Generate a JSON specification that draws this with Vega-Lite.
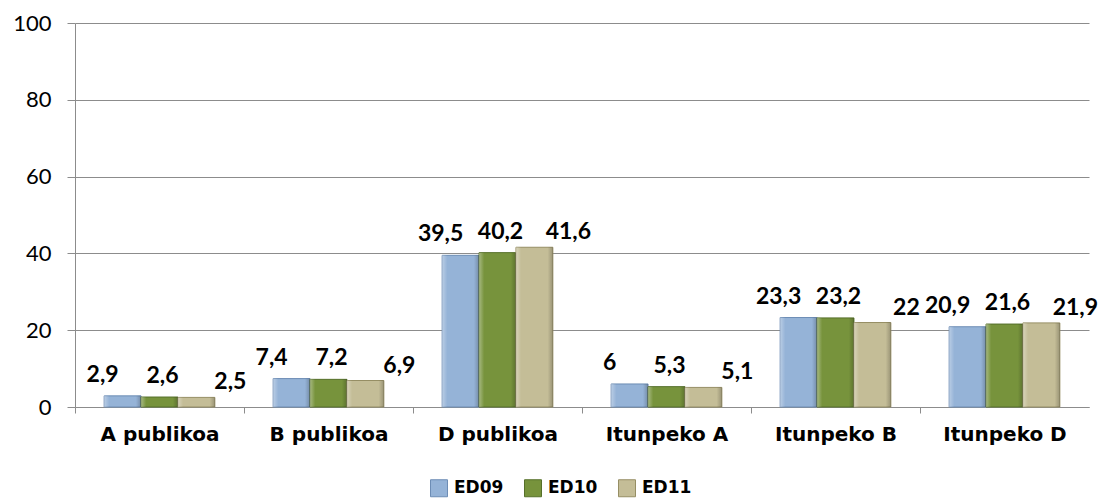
{
  "$schema": "https://vega.github.io/schema/vega-lite/v6.json",
  "width": 1014,
  "height": 384,
  "autosize": {"type": "none"},
  "padding": {"left": 75, "top": 23, "right": 21, "bottom": 92},
  "background": "white",
  "config": {
    "view": {"stroke": null},
    "locale": {"number": {"decimal": ",", "thousands": ".", "grouping": [3], "currency": ["", " €"]}},
    "axis": {"domainColor": "#8c8c8c", "gridColor": "#8c8c8c", "tickColor": "#8c8c8c", "labelColor": "#000000"}
  },
  "data": {
    "values": [
      {"cat": "A publikoa", "series": "ED09", "value": 2.9},
      {"cat": "A publikoa", "series": "ED10", "value": 2.6},
      {"cat": "A publikoa", "series": "ED11", "value": 2.5},
      {"cat": "B publikoa", "series": "ED09", "value": 7.4},
      {"cat": "B publikoa", "series": "ED10", "value": 7.2},
      {"cat": "B publikoa", "series": "ED11", "value": 6.9},
      {"cat": "D publikoa", "series": "ED09", "value": 39.5},
      {"cat": "D publikoa", "series": "ED10", "value": 40.2},
      {"cat": "D publikoa", "series": "ED11", "value": 41.6},
      {"cat": "Itunpeko A", "series": "ED09", "value": 6},
      {"cat": "Itunpeko A", "series": "ED10", "value": 5.3},
      {"cat": "Itunpeko A", "series": "ED11", "value": 5.1},
      {"cat": "Itunpeko B", "series": "ED09", "value": 23.3},
      {"cat": "Itunpeko B", "series": "ED10", "value": 23.2},
      {"cat": "Itunpeko B", "series": "ED11", "value": 22},
      {"cat": "Itunpeko D", "series": "ED09", "value": 20.9},
      {"cat": "Itunpeko D", "series": "ED10", "value": 21.6},
      {"cat": "Itunpeko D", "series": "ED11", "value": 21.9}
    ]
  },
  "encoding": {
    "x": {
      "field": "cat", "type": "nominal", "sort": null,
      "scale": {"paddingInner": 0.345, "paddingOuter": 0.1725},
      "axis": {
        "title": null, "labelAngle": 0, "labelFont": "DejaVu Sans", "labelFontWeight": "bold",
        "labelFontSize": 20, "tickSize": 6, "tickOffset": -84.5, "labelOffset": 84.5,
        "labelPadding": 11
      }
    },
    "xOffset": {"field": "series", "type": "nominal", "sort": null, "scale": {"paddingInner": 0, "paddingOuter": 0}},
    "y": {
      "field": "value", "type": "quantitative",
      "scale": {"domain": [0, 100], "nice": false},
      "axis": {
        "title": null, "values": [0, 20, 40, 60, 80, 100], "grid": true, "tickSize": 8,
        "labelPadding": 16, "labelFont": "Lato", "labelFontSize": 22
      }
    }
  },
  "layer": [
    {
      "mark": {"type": "bar", "strokeWidth": 1, "opacity": 1},
      "encoding": {
        "color": {
          "field": "series", "type": "nominal", "sort": null,
          "scale": {"range": ["#95b3d7", "#77933c", "#c4bd97"]},
          "legend": {
            "title": null, "orient": "none", "legendX": 355, "legendY": 456, "direction": "horizontal",
            "symbolType": "square", "symbolSize": 289, "symbolStrokeWidth": 1, "labelFont": "DejaVu Sans",
            "labelFontWeight": "bold", "labelFontSize": 17, "labelColor": "#000000", "labelOffset": 6,
            "columnPadding": 18
          }
        },
        "stroke": {
          "field": "series", "type": "nominal", "sort": null,
          "scale": {"range": ["#6d8db5", "#56702a", "#968e64"]},
          "legend": {
            "title": null, "orient": "none", "legendX": 355, "legendY": 456, "direction": "horizontal",
            "symbolType": "square", "symbolSize": 289, "symbolStrokeWidth": 1, "labelFont": "DejaVu Sans",
            "labelFontWeight": "bold", "labelFontSize": 17, "labelColor": "#000000", "labelOffset": 6,
            "columnPadding": 18
          }
        }
      }
    },
    {
      "mark": {
        "type": "bar",
        "color": {
          "gradient": "linear", "x1": 0, "x2": 1, "y1": 0, "y2": 0,
          "stops": [
            {"offset": 0, "color": "rgba(255,255,255,0.35)"},
            {"offset": 0.14, "color": "rgba(255,255,255,0)"},
            {"offset": 0.86, "color": "rgba(0,0,0,0)"},
            {"offset": 1, "color": "rgba(0,0,0,0.22)"}
          ]
        }
      },
      "encoding": {}
    },
    {
      "transform": [{"filter": "datum.series === 'ED09'"}],
      "mark": {"type": "text", "dx": -20, "dy": -21, "font": "Lato", "fontWeight": "bold", "fontSize": 23, "color": "#000000", "baseline": "middle", "align": "center"},
      "encoding": {"text": {"field": "value", "type": "quantitative", "format": ".1~f"}}
    },
    {
      "transform": [{"filter": "datum.series === 'ED10'"}],
      "mark": {"type": "text", "dx": 3, "dy": -21, "font": "Lato", "fontWeight": "bold", "fontSize": 23, "color": "#000000", "baseline": "middle", "align": "center"},
      "encoding": {"text": {"field": "value", "type": "quantitative", "format": ".1~f"}}
    },
    {
      "transform": [{"filter": "datum.series === 'ED11'"}],
      "mark": {"type": "text", "dx": 34, "dy": -15, "font": "Lato", "fontWeight": "bold", "fontSize": 23, "color": "#000000", "baseline": "middle", "align": "center"},
      "encoding": {"text": {"field": "value", "type": "quantitative", "format": ".1~f"}}
    }
  ]
}
